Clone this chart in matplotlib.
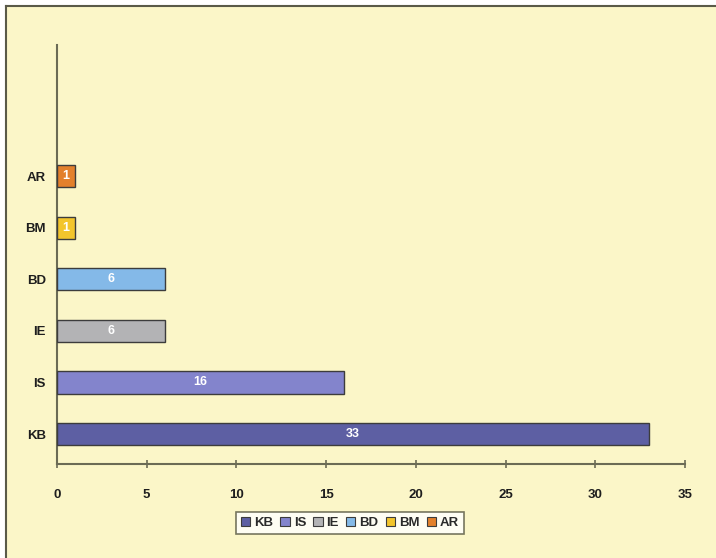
import matplotlib
matplotlib.use('Agg')
import matplotlib.pyplot as plt
from matplotlib.patches import Rectangle, Patch
from matplotlib.lines import Line2D

# Data
categories = ['KB', 'IS', 'IE', 'BD', 'BM', 'AR']
counts = [33, 16, 6, 6, 1, 1]
colors = ['#5d5fa3', '#8384cc', '#b3b3b5', '#84b9e8', '#f3c52c', '#e3802c']
x_ticks = [0, 5, 10, 15, 20, 25, 30, 35]

plt.rcParams['font.family'] = ['Liberation Sans', 'DejaVu Sans']
bg = '#fbf6c8'

fig = plt.figure(figsize=(7.16, 5.58), dpi=100, facecolor='white')

# Yellow panel with a dark border on top and left (kept behind the axes)
fig.patches.append(Rectangle((6 / 716, 0), 1 - 6 / 716, 1 - 6 / 558,
                             transform=fig.transFigure, facecolor=bg,
                             edgecolor='none', zorder=-5))
fig.lines.append(Line2D([6 / 716, 6 / 716], [0, 1 - 6 / 558],
                        transform=fig.transFigure, color='#5a5a48', lw=1.5,
                        zorder=-4))
fig.lines.append(Line2D([6 / 716, 1], [1 - 6 / 558, 1 - 6 / 558],
                        transform=fig.transFigure, color='#5a5a48', lw=1.5,
                        zorder=-4))

ax = fig.add_axes([57 / 716, 1 - 464 / 558, (685 - 57) / 716, (464 - 45) / 558])
ax.set_facecolor('none')

ypos = range(len(categories))
bars = ax.barh(ypos, counts, height=0.43, color=colors,
               edgecolor='#3c3c3c', linewidth=1.0, zorder=3)

for b, v in zip(bars, counts):
    ax.text(b.get_width() / 2, b.get_y() + b.get_height() / 2, str(v),
            ha='center', va='center', color='white', fontsize=9,
            fontweight='bold', zorder=4)

ax.set_xlim(0, 35)
ax.set_ylim(-0.58, 7.54)
ax.set_xticks(x_ticks)
ax.set_yticks(list(ypos))
ax.set_yticklabels(categories)

for s in ['top', 'right']:
    ax.spines[s].set_visible(False)
for s in ['left', 'bottom']:
    ax.spines[s].set_color('#6b6b55')
    ax.spines[s].set_linewidth(1.5)

ax.tick_params(axis='x', direction='inout', length=6, width=1.2,
               color='#6b6b55', labelsize=9.5, pad=15)
ax.tick_params(axis='y', length=0, labelsize=9.5, pad=8)
for lbl in ax.get_xticklabels() + ax.get_yticklabels():
    lbl.set_fontweight('bold')
    lbl.set_color('#1e1e1e')

handles = [Patch(facecolor=c, edgecolor='#3c3c3c', linewidth=0.8) for c in colors]
leg = fig.legend(handles, categories, loc='center', ncol=6,
                 bbox_to_anchor=(350 / 716, 1 - 523 / 558),
                 frameon=True, fancybox=False, fontsize=9.5,
                 handlelength=0.7, handleheight=0.7, handletextpad=0.3,
                 columnspacing=0.55, borderpad=0.4)
leg.get_frame().set_edgecolor('#55553f')
leg.get_frame().set_linewidth(1.2)
leg.get_frame().set_facecolor('#ffffff')
for t in leg.get_texts():
    t.set_fontweight('bold')
    t.set_color('#2a2a2a')

fig.savefig('out.png', dpi=100, facecolor='white')
